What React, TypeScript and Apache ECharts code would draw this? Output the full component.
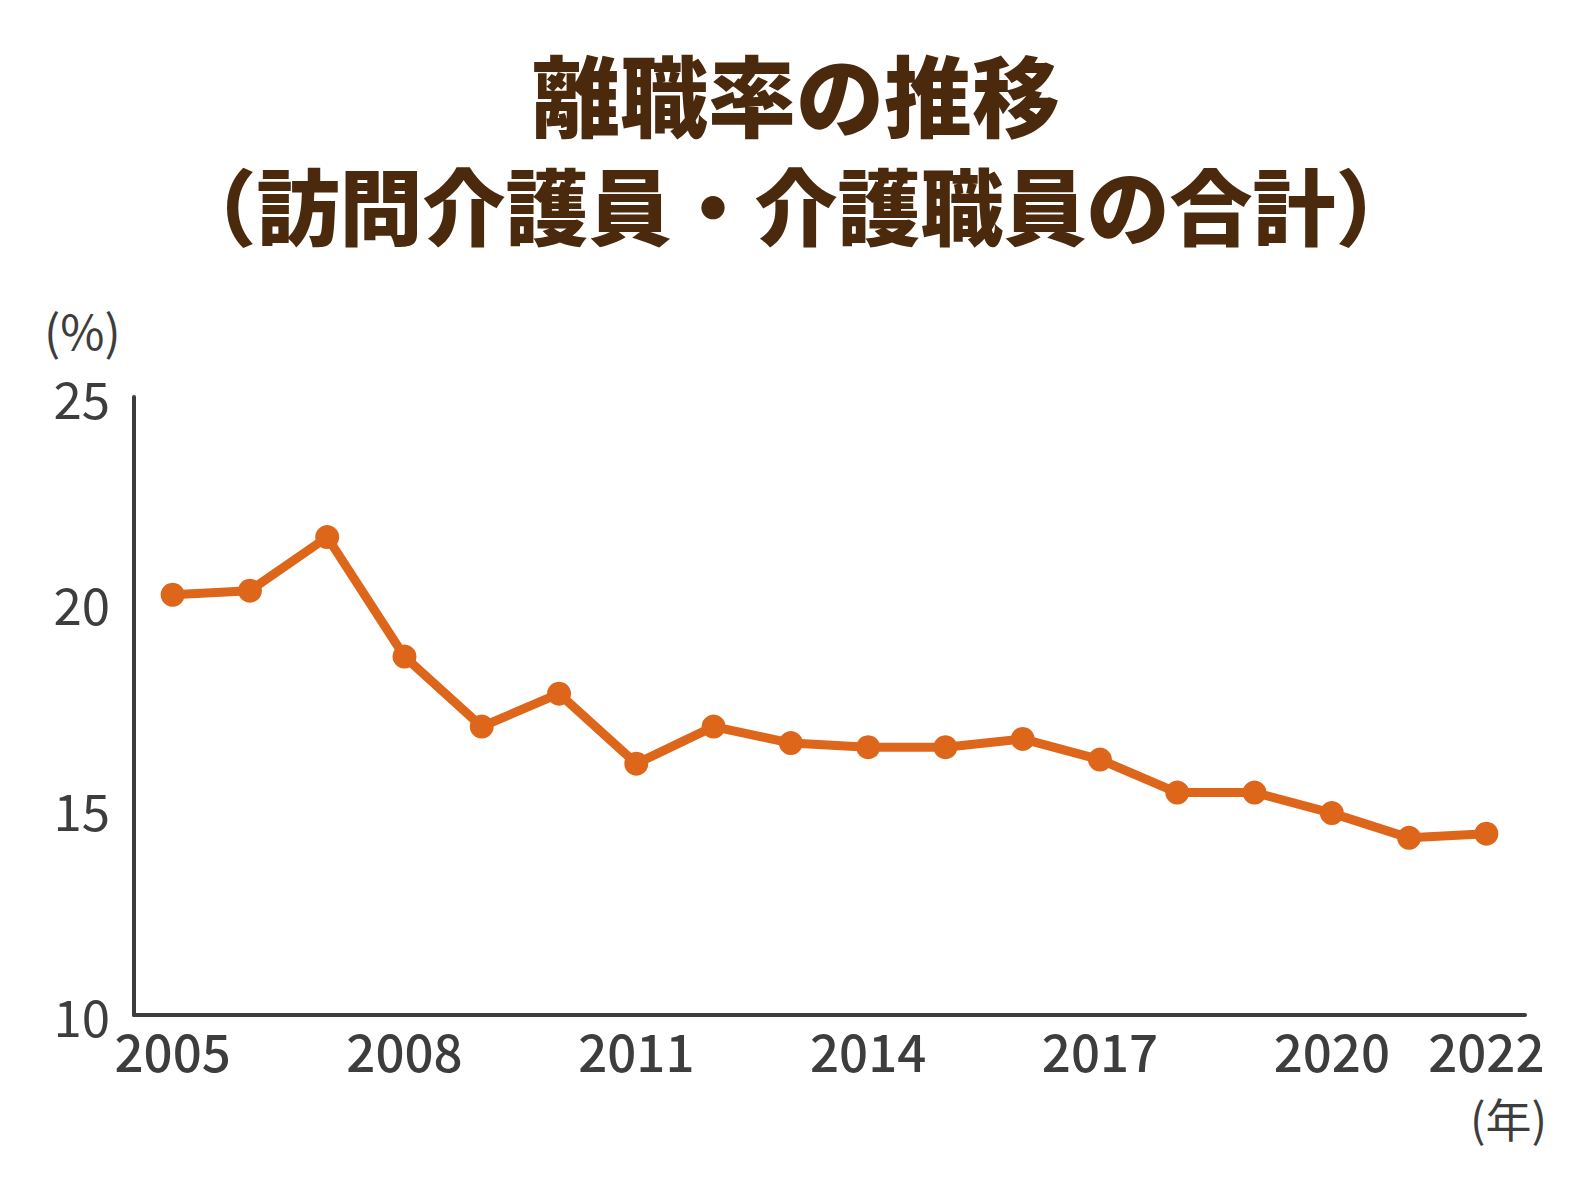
import React, { useEffect, useRef } from "react";
import * as echarts from "echarts";

const years = ["2005","2006","2007","2008","2009","2010","2011","2012","2013","2014","2015","2016","2017","2018","2019","2020","2021","2022"];
const rates = [20.2, 20.3, 21.6, 18.7, 17.0, 17.8, 16.1, 17.0, 16.6, 16.5, 16.5, 16.7, 16.2, 15.4, 15.4, 14.9, 14.3, 14.4];
const titleLine1 = "離職率の推移";
const titleLine2 = "（訪問介護員・介護職員の合計）";
const yUnit = "(%)";
const xUnit = "(年)";
const shownYearIdx = [0, 3, 6, 9, 12, 15, 17];

const FONT = '"Noto Sans CJK JP", "Noto Sans", sans-serif';
const TEXT = "#3d3d3d";

export default function App() {
  const ref = useRef<HTMLDivElement>(null);
  useEffect(() => {
    if (!ref.current) return;
    const chart = echarts.init(ref.current, null, { renderer: "svg" });
    chart.setOption({
      animation: false,
      backgroundColor: "#ffffff",
      title: [
        {
          text: titleLine1,
          left: "center",
          top: 45,
          padding: 0,
          textStyle: { fontFamily: FONT, fontWeight: 900, fontSize: 88, lineHeight: 92, color: "#4a290c" },
        },
        {
          text: titleLine2,
          left: "center",
          top: 160,
          padding: 0,
          textStyle: { fontFamily: FONT, fontWeight: 900, fontSize: 83, lineHeight: 86, color: "#4a290c" },
        },
      ],
      graphic: [
        {
          type: "text",
          left: 44,
          top: 305,
          style: { text: yUnit, font: `400 48px ${FONT}`, fill: TEXT },
        },
        {
          type: "text",
          left: 1470,
          top: 1094,
          style: { text: xUnit, font: `400 46px ${FONT}`, fill: TEXT },
        },
      ],
      grid: { left: 134, right: 67, top: 397, bottom: 179, containLabel: false },
      xAxis: {
        type: "category",
        data: years,
        boundaryGap: true,
        axisLine: { lineStyle: { color: TEXT, width: 4 } },
        axisTick: { show: false },
        axisLabel: {
          interval: (idx: number) => shownYearIdx.includes(idx),
          color: TEXT,
          fontFamily: FONT,
          fontSize: 51,
          lineHeight: 54,
          fontWeight: 500,
          margin: 8,
        },
        splitLine: { show: false },
      },
      yAxis: {
        type: "value",
        min: 10,
        max: 25,
        interval: 5,
        axisLine: { show: true, lineStyle: { color: TEXT, width: 4 } },
        axisTick: { show: false },
        splitLine: { show: false },
        axisLabel: {
          color: TEXT,
          fontFamily: FONT,
          fontSize: 51,
          margin: 24,
        },
      },
      series: [
        {
          type: "line",
          data: rates,
          symbol: "circle",
          symbolSize: 24,
          lineStyle: { color: "#dd661b", width: 9 },
          itemStyle: { color: "#dd661b" },
        },
      ],
    });
    return () => chart.dispose();
  }, []);
  return <div ref={ref} style={{ width: 1592, height: 1194, margin: -8 }} />;
}
